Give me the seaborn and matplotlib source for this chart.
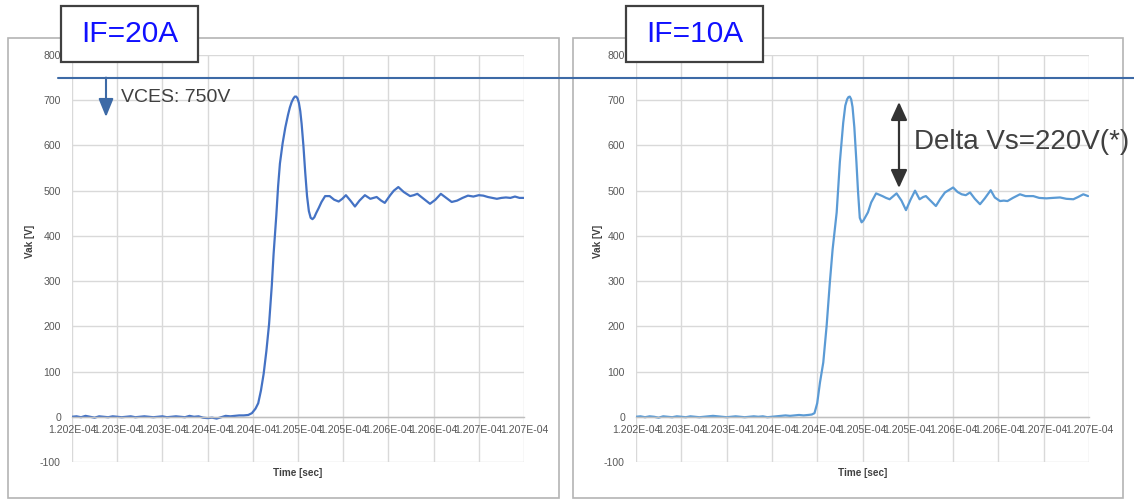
import numpy as np
import pandas as pd
import matplotlib
matplotlib.use("Agg")
import matplotlib.pyplot as plt
import seaborn as sns
from matplotlib.patches import Rectangle, FancyArrowPatch
from matplotlib.lines import Line2D

# ---------------- data (time offsets in ns from 1.202E-04 s, voltage in V) ----------------
t_origin = 1.202e-4
tick_labels = ["1.202E-04", "1.203E-04", "1.203E-04", "1.204E-04", "1.204E-04", "1.205E-04",
               "1.205E-04", "1.206E-04", "1.206E-04", "1.207E-04", "1.207E-04"]
tick_ns = [0, 50, 100, 150, 200, 250, 300, 350, 400, 450, 500]
y_ticks = [-100, 0, 100, 200, 300, 400, 500, 600, 700, 800]

left_t = [0, 5, 10, 15, 20, 25, 30, 35, 40, 45, 50, 55, 60, 65, 70, 75, 80, 85, 90, 95,
          100, 105, 110, 115, 120, 125, 130, 135, 140, 145, 150, 155, 160, 165, 170, 175,
          180, 185, 190, 195, 199, 203, 206, 209, 212, 215, 218, 221, 223, 226, 228, 230,
          233, 236, 239, 241, 243, 245, 246.5, 248, 249.5, 251, 252.5, 254, 256, 258, 260,
          262, 264, 266, 268, 270, 273, 276, 280, 285, 290, 295, 299, 303, 308, 313, 318,
          324, 330, 337, 342, 346, 352, 356, 361, 367, 374, 378, 382, 389, 396, 402, 408,
          414, 420, 426, 432, 438, 444, 450, 455, 460, 465, 470, 475, 480, 485, 490, 495, 500]
left_v = [0, 1, -1, 2, 0, -2, 1, 0, -1, 1, 0, -1, 0, 1, -1, 0, 1, 0, -1, 0,
          1, -1, 0, 1, 0, -1, 2, 0, 1, -2, -3, -2, -4, -1, 2, 1,
          2, 3, 3, 4, 8, 18, 30, 58, 95, 145, 205, 290, 360, 445, 510, 560,
          605, 640, 668, 684, 696, 704, 708, 708, 704, 694, 676, 648, 599, 540, 488,
          455, 440, 437, 441, 450, 462, 475, 488, 488, 480, 476, 482, 490, 478, 465, 478,
          490, 482, 486, 478, 473, 490, 500, 508, 497, 488, 490, 493, 482, 471, 480, 493,
          484, 475, 478, 484, 489, 487, 490, 489, 486, 484, 482, 484, 485, 484, 487, 484, 484]

right_t = [0, 5, 10, 15, 20, 25, 30, 35, 40, 45, 50, 55, 60, 65, 70, 75, 80, 85, 90, 95,
           100, 105, 110, 115, 120, 125, 130, 135, 140, 145, 150, 155, 160, 165, 170, 175,
           180, 185, 190, 194, 197, 200, 203, 206.7, 210.4, 214, 217, 221.5, 225, 228.7,
           231, 233, 234.5, 236, 237.5, 239, 241, 243.3, 245, 247, 249, 251, 256, 259.6, 265,
           272, 276, 280, 287.6, 293, 298, 303, 308, 313, 317, 320, 325, 331, 336, 341, 350,
           355, 359.5, 364, 368.7, 374, 379.7, 385, 391.5, 396, 401.8, 406, 410, 416, 423.8,
           430, 438.5, 445, 453, 460, 468, 475, 482.7, 488, 493.7, 499]
right_v = [0, 1, -1, 1, 0, -2, 1, 0, -1, 1, 0, -1, 1, 0, -1, 0, 1, 2, 1, 0,
           -1, 0, 1, 0, -1, 0, 1, 0, 1, -1, 0, 1, 2, 3, 2, 3,
           4, 3, 4, 5, 8, 30, 75, 120, 201, 298, 370, 452, 563, 650,
           688, 702, 707, 708, 702, 685, 640, 563, 500, 440, 430, 434, 452, 474, 494,
           488, 484, 481, 494, 478, 457, 480, 500, 481, 486, 488, 478, 466, 482, 496, 507,
           497, 492, 490, 496, 482, 470, 483, 501, 485, 477, 478, 477, 484, 492,
           488, 488, 484, 483, 484, 485, 482, 481, 486, 492, 488]

panel_labels = ["IF=20A", "IF=10A"]
vces_label = "VCES: 750V"
vces_value = 750
delta_label = "Delta Vs=220V(*)"

# ---------------- style ----------------
sns.set_style("white")
plt.rcParams["font.family"] = ["Liberation Sans", "DejaVu Sans"]

W, H = 1134, 500
fig = plt.figure(figsize=(W / 100, H / 100), dpi=100)


def px_box(x0, x1, ytop, ybot):
    return [x0 / W, (H - ybot) / H, (x1 - x0) / W, (ybot - ytop) / H]


# outer panel borders
for (x0, x1) in [(8, 559), (573, 1123)]:
    fig.add_artist(Rectangle((x0 / W, 2 / H), (x1 - x0) / W, (498 - 38) / H,
                             transform=fig.transFigure, fill=False,
                             edgecolor="#b4b4b4", lw=1.2, zorder=0))

ax1 = fig.add_axes(px_box(72, 524, 55, 462))
ax2 = fig.add_axes(px_box(636, 1089, 55, 462))

series = [(ax1, left_t, left_v, "#4472c4", -0.093),
          (ax2, right_t, right_v, "#5b9bd5", -0.084)]

tick_pos = [t_origin + t * 1e-9 for t in tick_ns]
for ax, tt, vv, col, ylab_x in series:
    df = pd.DataFrame({"time": [t_origin + t * 1e-9 for t in tt], "v": vv})
    sns.lineplot(data=df, x="time", y="v", ax=ax, color=col, lw=1.6, estimator=None, sort=False)
    ax.set_xlim(tick_pos[0], tick_pos[-1])
    ax.set_ylim(-100, 800)
    ax.set_xticks(tick_pos)
    ax.set_xticklabels(tick_labels)
    ax.set_yticks(y_ticks)
    ax.set_yticklabels([str(v) for v in y_ticks])
    ax.grid(True, color="#d9d9d9", lw=1.0)
    ax.set_axisbelow(True)
    for s in ["top", "right", "left"]:
        ax.spines[s].set_visible(False)
    ax.spines["bottom"].set_position(("data", 0))
    ax.spines["bottom"].set_color("#bfbfbf")
    ax.spines["bottom"].set_linewidth(1.0)
    ax.tick_params(axis="both", length=0, labelsize=7.6, labelcolor="#595959")
    ax.tick_params(axis="x", pad=6)
    ax.tick_params(axis="y", pad=8)
    ax.set_xlabel("")
    ax.set_ylabel("")
    ax.text(0.5, -0.027, "Time [sec]", transform=ax.transAxes, ha="center", va="center",
            fontsize=7.2, fontweight="bold", color="#404040")
    ax.text(ylab_x, 0.543, "Vak [V]", transform=ax.transAxes, ha="center", va="center",
            rotation=90, fontsize=7.2, fontweight="bold", color="#404040")

# 750 V line across both panels
y750 = ax1.transData.transform((tick_pos[0], vces_value))[1]
y750_f = fig.transFigure.inverted().transform((0, y750))[1]
fig.add_artist(Line2D([58 / W, 1.0], [y750_f, y750_f], transform=fig.transFigure,
                      color="#3d6aa6", lw=1.5, zorder=5))

# down arrow under the line
fig.add_artist(FancyArrowPatch((106 / W, y750_f), (106 / W, (H - 117) / H),
                               transform=fig.transFigure,
                               arrowstyle="-|>,head_length=1.1,head_width=0.45",
                               mutation_scale=10, color="#3d6aa6", lw=1.5,
                               shrinkA=0, shrinkB=0, zorder=6))
fig.text(121 / W, (H - 98) / H, vces_label, ha="left", va="center",
         fontsize=14, color="#404040")

# double arrow and delta text (right panel)
fig.add_artist(FancyArrowPatch((899 / W, (H - 102) / H), (899 / W, (H - 188) / H),
                               transform=fig.transFigure,
                               arrowstyle="<|-|>,head_length=1.1,head_width=0.5",
                               mutation_scale=10, color="#333333", lw=1.6,
                               shrinkA=0, shrinkB=0, zorder=6))
fig.text(914 / W, (H - 142) / H, delta_label, ha="left", va="center",
         fontsize=20, color="#404040")

# IF boxes
for (x0, x1), lab in zip([(61, 198), (626, 763)], panel_labels):
    fig.add_artist(Rectangle((x0 / W, (H - 62) / H), (x1 - x0) / W, 56 / H,
                             transform=fig.transFigure, facecolor="white",
                             edgecolor="#404040", lw=1.6, zorder=7))
    fig.text((x0 + x1) / 2 / W, (H - 34) / H, lab, ha="center", va="center",
             fontsize=21.5, color="#1010ff", zorder=8)

fig.savefig("out.png", dpi=100)
